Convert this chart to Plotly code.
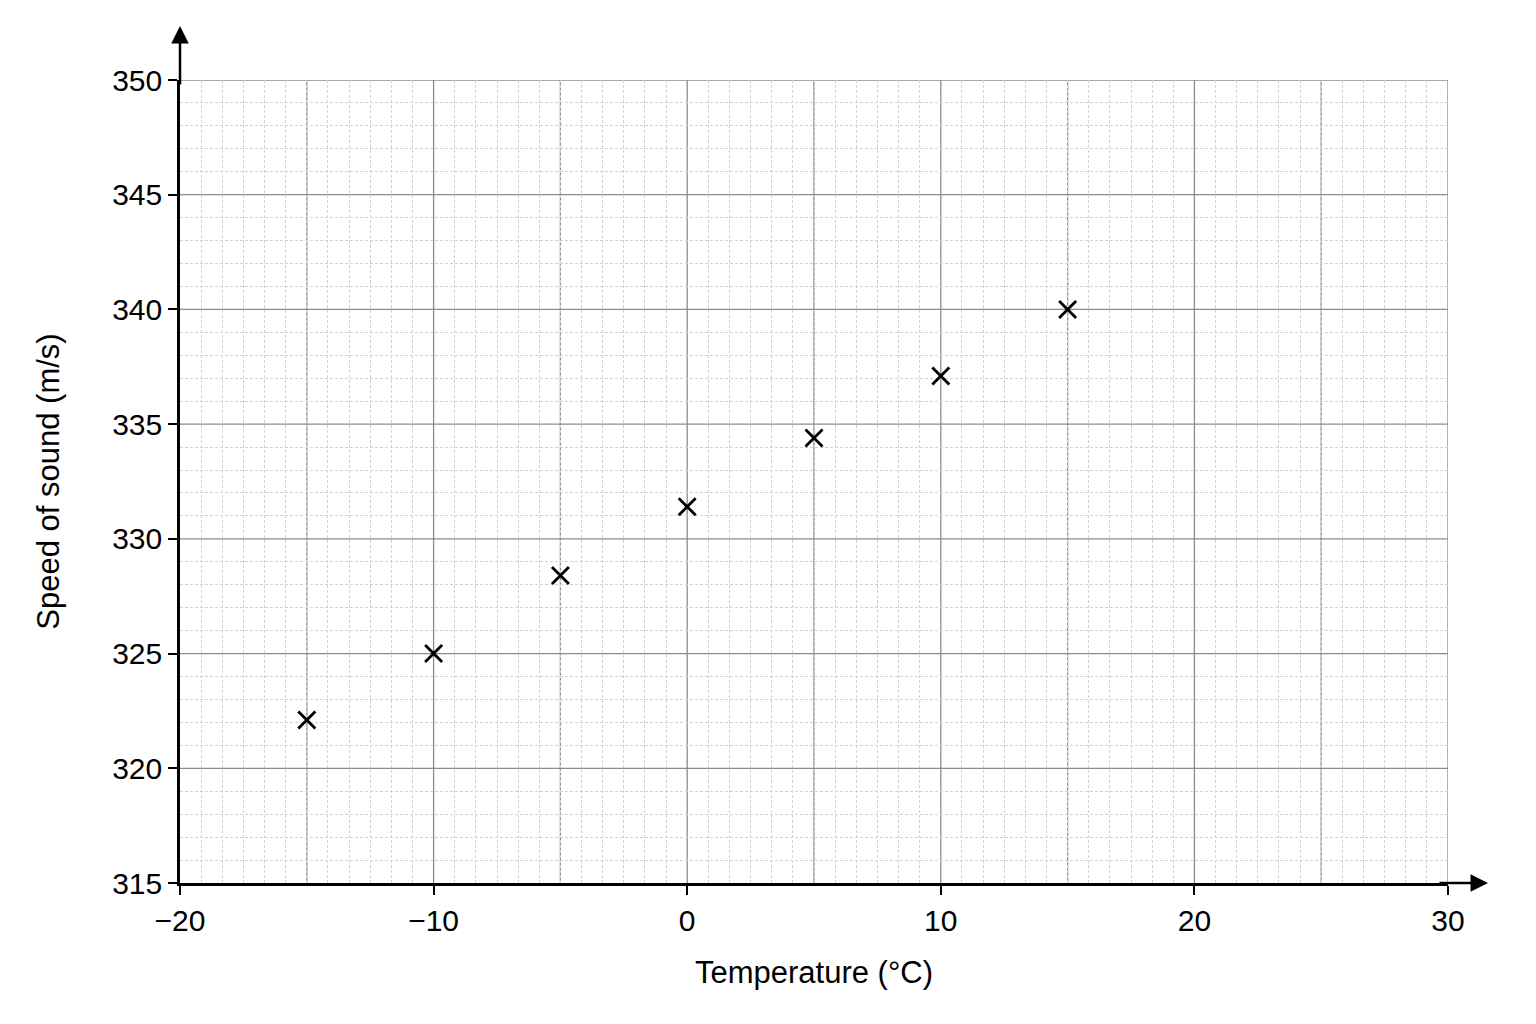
import plotly.graph_objects as go

temperature = [-15, -10, -5, 0, 5, 10, 15]
speed = [322.1, 325.0, 328.4, 331.4, 334.4, 337.1, 340.0]

font_main = "Liberation Sans Narrow, Arial Narrow, Liberation Sans, Arial"

fig = go.Figure()
fig.add_trace(go.Scatter(
    x=temperature,
    y=speed,
    mode='markers',
    marker=dict(symbol='x-thin', size=17, color='black',
                line=dict(color='black', width=2.8)),
    showlegend=False,
    cliponaxis=False))

# the page puts the figure 8px in from the corner, so margins allow for that
fig.update_layout(
    width=1520, height=1008,
    margin=dict(l=172, r=80, t=72, b=133),
    paper_bgcolor='white', plot_bgcolor='white',
    font=dict(family=font_main, size=30, color='black'))

fig.update_xaxes(
    range=[-20, 30], dtick=10, tick0=-20,
    showgrid=False,
    ticks='outside', ticklen=9, tickwidth=2, tickcolor='black',
    showline=True, linecolor='black', linewidth=2.5,
    zeroline=False,
    title=dict(text='Temperature (°C)', standoff=26,
               font=dict(size=31)),
    minor=dict(dtick=5/6, tick0=-20, showgrid=True, gridcolor='#d2d2d2',
               griddash='3px,2px', gridwidth=1))

fig.update_yaxes(
    range=[315, 350], dtick=5, tick0=315,
    showgrid=False,
    ticks='outside', ticklen=9, tickwidth=2, tickcolor='black',
    showline=True, linecolor='black', linewidth=2.5,
    zeroline=False,
    title=dict(text='Speed of sound (m/s)', standoff=44,
               font=dict(size=31)),
    minor=dict(dtick=1, tick0=315, showgrid=True, gridcolor='#d2d2d2',
               griddash='3px,2px', gridwidth=1))

# major grid every 5 units (solid grey), drawn over the minor grid
for gx in range(-15, 31, 5):
    fig.add_shape(type='line', xref='x', yref='paper', x0=gx, x1=gx, y0=0, y1=1,
                  line=dict(color='#8c8c8c', width=1.3), layer='between')
for gy in range(320, 351, 5):
    fig.add_shape(type='line', xref='paper', yref='y', x0=0, x1=1, y0=gy, y1=gy,
                  line=dict(color='#8c8c8c', width=1.3), layer='between')

# axis arrows
fig.add_annotation(xref='x', yref='paper', x=-20, y=1 + 54 / 803, ax=0, ay=60,
                   showarrow=True, arrowhead=2, arrowsize=1.4, arrowwidth=2.5,
                   arrowcolor='black', text='')
fig.add_annotation(xref='paper', yref='y', x=1 + 40 / 1268, y=315, ax=-50, ay=0,
                   showarrow=True, arrowhead=2, arrowsize=1.4, arrowwidth=2.5,
                   arrowcolor='black', text='')

fig.write_html("out.html")
